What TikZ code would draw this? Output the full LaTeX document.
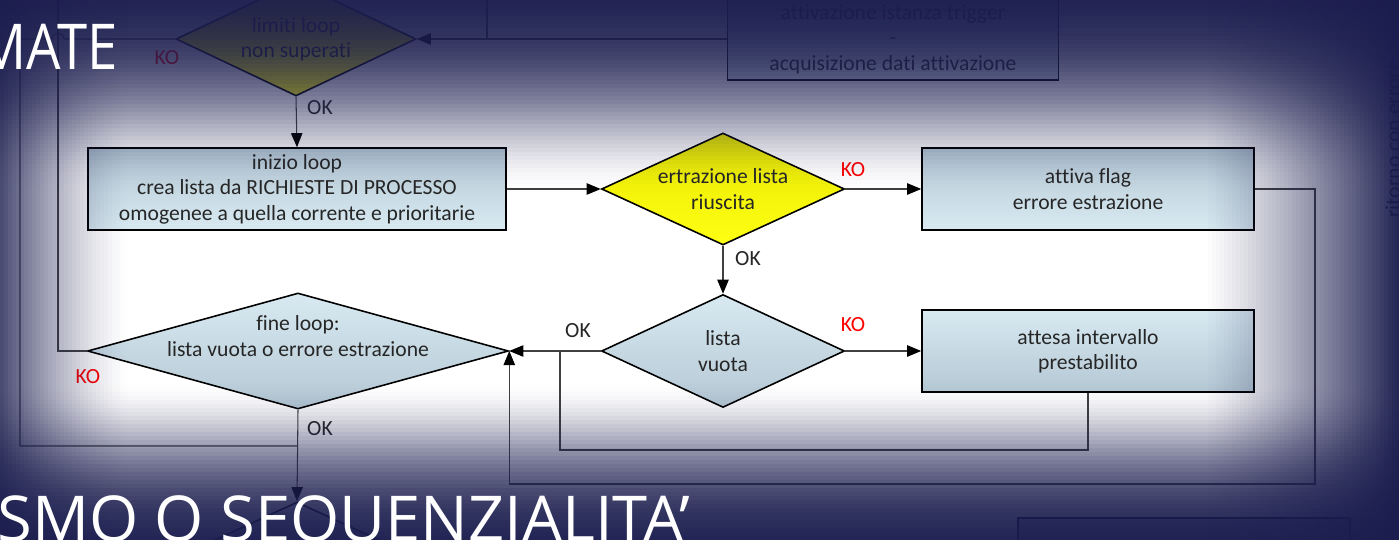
\documentclass[tikz,border=0pt]{standalone}
\usepackage{fontspec}
\setmainfont{Carlito}[Ligatures=NoCommon]
\newfontfamily\titlefont{Open Sans}
\usetikzlibrary{shapes.geometric,arrows.meta}

\definecolor{navy}{HTML}{1B1D4E}
\definecolor{boxdark}{HTML}{B4C8D4}
\definecolor{boxlight}{HTML}{D8E9F1}
\definecolor{ylwtop}{HTML}{FFFF14}
\definecolor{ylwbot}{HTML}{E8E800}
\definecolor{linegray}{HTML}{404040}
\definecolor{txtgray}{HTML}{262626}

\tikzset{
  txt/.style={font=\fontsize{12.3}{14.5}\selectfont, text=txtgray, align=center, inner sep=0pt},
  procbox/.style={draw=black, line width=0.9pt, top color=boxdark, bottom color=boxlight,
    minimum width=#1*0.02cm, minimum height=82*0.02cm, inner sep=0pt},
  dec/.style 2 args={diamond, draw=black, line width=0.9pt, inner sep=0pt,
    minimum width=#1*0.02cm, minimum height=#2*0.02cm, top color=boxlight, bottom color=boxdark},
  conn/.style={draw=linegray, line width=0.6pt},
  oklab/.style={txt},
  kolab/.style={txt, text=red},
  title/.style={font=\titlefont\fontsize{36}{40}\selectfont, text=white, inner sep=0pt}
}

\begin{document}
\begin{tikzpicture}[x=0.02cm, y=-0.02cm, >={Triangle[length=8pt,width=6.5pt,color=black]}]
  \useasboundingbox (0,0) rectangle (1399,540);
  \fill[white] (0,0) rectangle (1399,540);

  % blocks
  \node[dec={240}{114}, top color=ylwbot, bottom color=ylwtop] (limiti) at (296,39) {};
  \node[txt] (limitit) at (limiti) {limiti loop\\non superati};
  \node[procbox=331] (trig) at (893,39) {};
  \node[txt] (trigt) at (trig) {attivazione istanza trigger\\-\\acquisizione dati attivazione};

  \node[procbox=418] (inizio) at (297,189) {};
  \node[txt] (iniziot) at (inizio) {inizio loop\\crea lista da RICHIESTE DI PROCESSO\\omogenee a quella corrente e prioritarie};

  \node[dec={243}{112}, top color=ylwbot, bottom color=ylwtop] (estr) at (723,189) {};
  \node[txt] (estrt) at (estr) {ertrazione lista\\riuscita};

  \node[procbox=332] (flag) at (1088,189) {};
  \node[txt] (flagt) at (flag) {attiva flag\\errore estrazione};

  \node[dec={243}{113}] (vuota) at (723,351) {};
  \node[txt] (vuotat) at (vuota) {lista\\vuota};

  \node[procbox=332, top color=boxlight, bottom color=boxdark] (attesa) at (1088,351) {};
  \node[txt] (attesat) at (attesa) {attesa intervallo\\prestabilito};

  \node[dec={421}{116}] (fine) at (298,351) {};
  \node[txt] (finet) at (298,336) {fine loop:\\lista vuota o errore estrazione};

  \node[dec={243}{112}] (esito) at (297,558) {};
  \node[procbox=332] (bbox) at (1184,559) {};

  \node[txt, rotate=90, anchor=west, text=navy!60!black] (ritorno) at (1393,218) {ritorno con errore};

  % connectors
  \coordinate (ttop) at (487,-20);
  \coordinate (ltop) at (58,-20);
  \coordinate (lbot) at (20,446);
  \coordinate (jv) at (560,450);
  \coordinate (rr) at (1315,484);

  \draw[conn,->] (trig.west) -- (limiti.east);
  \draw[conn] (ttop) -- (ttop |- limiti.east);
  \draw[conn] (limiti.west) -- (64,39) arc[start angle=0, end angle=-180, radius=6] -- (20,39) -- (lbot) -- (lbot -| fine.south);
  \node[kolab] (ko0) at (167,58) {KO};

  \draw[conn,->] (limiti.south) -- (inizio.north);
  \node[oklab] (ok0) at (320,108) {OK};

  \draw[conn,->] (inizio.east) -- (estr.west);
  \draw[conn,->] (estr.east) -- (flag.west);
  \node[kolab] (ko1) at (853,170) {KO};

  \draw[conn,->] (estr.south) -- (vuota.north);
  \node[oklab] (ok1) at (748,259) {OK};

  \draw[conn,->] (vuota.east) -- (attesa.west);
  \node[kolab] (ko2) at (853,325) {KO};

  \draw[conn,->] (vuota.west) -- (fine.east);
  \node[oklab] (ok2) at (578,331) {OK};

  \draw[conn] (attesa.south) |- (jv) -- (jv |- vuota.west);
  \draw[conn,->] (flag.east) -| (rr) -| (fine.east);

  \draw[conn] (fine.west) -| (ltop);
  \node[kolab] (ko3) at (88,377) {KO};

  \draw[conn,->] (fine.south) -- (esito.north);
  \node[oklab] (ok3) at (320,429) {OK};

  % slide vignette, in strips
  \foreach \y in {0,4,...,536}{
    \pgfmathsetmacro\ua{max(0,(193-\y)/105)}
    \pgfmathsetmacro\ub{max(0,(\y-378)/88)}
    \pgfmathsetmacro\dv{max(1-exp(-\ua*\ua),1-exp(-\ub*\ub))}
    \fill[navy, opacity=\dv] (0,\y) rectangle (1399,{\y+4});
  }
  \foreach \x in {0,4,...,1396}{
    \pgfmathsetmacro\ta{max(0.001,min(1,(128-\x)/150))}
    \pgfmathsetmacro\tb{max(0.001,min(1,(\x-1203)/200))}
    \pgfmathsetmacro\dh{min(0.95,max(\ta^1.5,\tb^1.2))}
    \fill[navy, opacity=\dh] (\x,0) rectangle ({\x+4},540);
  }

  % slide titles
  \node[title, anchor=base east] (mate) at (118,70) {\scalebox{0.86}[1]{MATE}};
  \node[title, anchor=base west] (seq) at (-3,541) {SMO O SEQUENZIALITA’};
\end{tikzpicture}
\end{document}
